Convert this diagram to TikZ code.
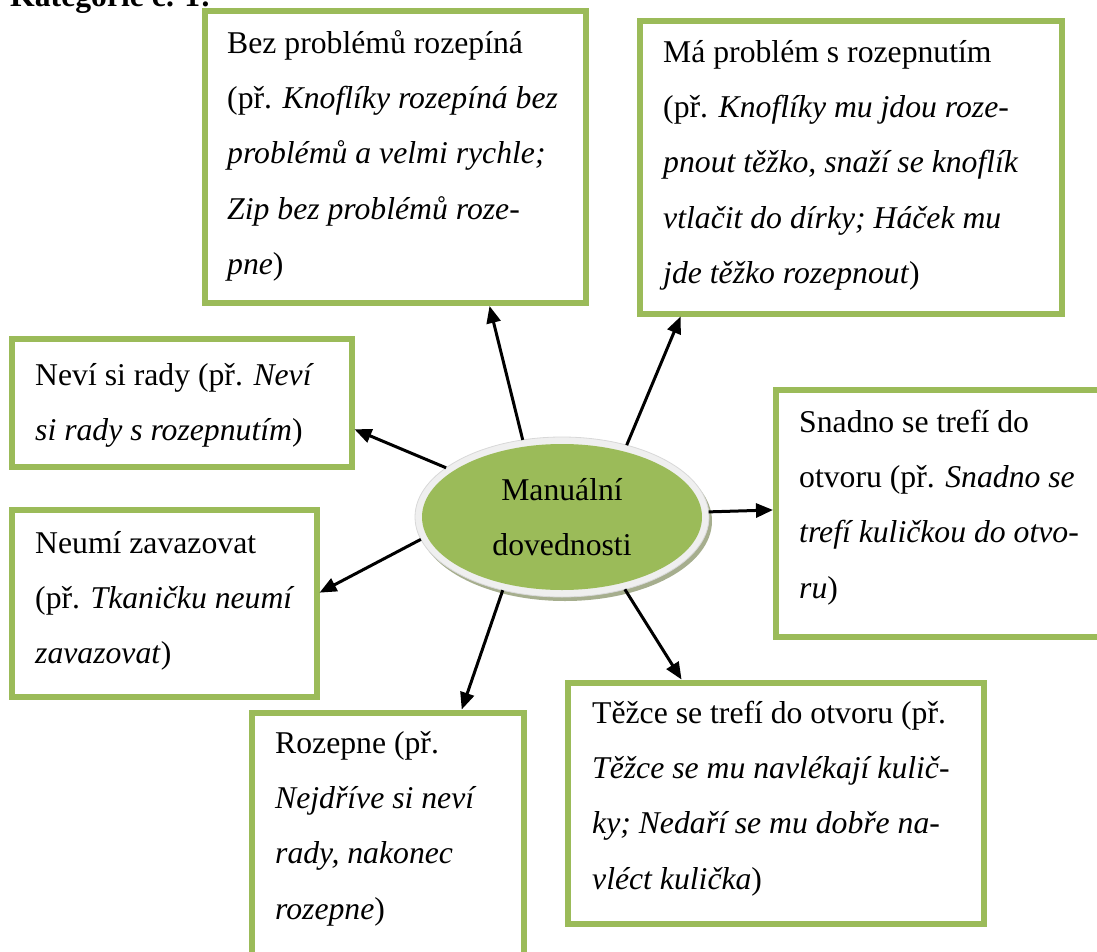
\documentclass[tikz,border=0pt]{standalone}
\usepackage{fontspec}
\setmainfont{Liberation Serif}
\usetikzlibrary{arrows.meta,calc,shapes.geometric}
\definecolor{olive}{HTML}{9BBB59}
\definecolor{ringgrey}{HTML}{EFEFEF}
\definecolor{ringedge}{HTML}{D8D8D8}
\definecolor{shade}{HTML}{A6AE8E}
\tikzset{
  gbox/.style={draw=olive, line width=6pt, fill=white, rectangle, inner sep=0pt},
  boxtext/.style={anchor=north west, inner sep=0pt, align=left,
    font=\fontsize{31.7}{55.3}\selectfont},
  link/.style={line width=3pt, -{Triangle[length=17pt,width=14pt]}},
}
\newcommand{\lead}{\strut}
\begin{document}
\begin{tikzpicture}[x=1pt,y=-1pt]
\useasboundingbox (0,0) rectangle (1097,952);
\clip (0,0) rectangle (1097,952);

% heading, partly above the top edge
\node[anchor=base west, inner sep=0pt, font=\fontsize{31.7}{55.3}\selectfont\bfseries]
  (head) at (10,7) {Kategorie č. 1:};

% boxes
\node[gbox, minimum width=381, minimum height=292] (b1) at (395.5,157) {};
\node[gbox, minimum width=422, minimum height=292] (b2) at (850.5,167.5) {};
\node[gbox, minimum width=340, minimum height=128] (b3) at (181.5,402.5) {};
\node[gbox, minimum width=305, minimum height=186.5] (b4) at (164,603.25) {};
\node[gbox, minimum width=334, minimum height=246.5] (b5) at (943,513.25) {};
\node[gbox, minimum width=416.5, minimum height=241.5] (b6) at (775.75,803.25) {};
\node[gbox, minimum width=272, minimum height=277.5] (b7) at (387.5,851.25) {};

% box texts (first baseline minus strut height)
\node[boxtext] (t1) at (227,14.3) {\lead Bez problémů rozepíná\\
(př. \textit{Knoflíky rozepíná bez}\\
\textit{problémů a velmi rychle;}\\
\textit{Zip bez problémů roze-}\\
\textit{pne})};
\node[boxtext] (t2) at (663,23.3) {\lead Má problém s rozepnutím\\
(př. \textit{Knoflíky mu jdou roze-}\\
\textit{pnout těžko, snaží se knoflík}\\
\textit{vtlačit do dírky; Háček mu}\\
\textit{jde těžko rozepnout})};
\node[boxtext] (t3) at (35,346.3) {\lead Neví si rady (př. \textit{Neví}\\
\textit{si rady s rozepnutím})};
\node[boxtext] (t4) at (35,514.3) {\lead Neumí zavazovat\\
(př. \textit{Tkaničku neumí}\\
\textit{zavazovat})};
\node[boxtext] (t5) at (799,393.3) {\lead Snadno se trefí do\\
otvoru (př. \textit{Snadno se}\\
\textit{trefí kuličkou do otvo-}\\
\textit{ru})};
\node[boxtext] (t6) at (592,684.3) {\lead Těžce se trefí do otvoru (př.\\
\textit{Těžce se mu navlékají kulič-}\\
\textit{ky; Nedaří se mu dobře na-}\\
\textit{vléct kulička})};
\node[boxtext] (t7) at (275,714.3) {\lead Rozepne (př.\\
\textit{Nejdříve si neví}\\
\textit{rady, nakonec}\\
\textit{rozepne})};

% central ellipse: shadow, light ring, green core
\node[ellipse, fill=shade, minimum width=294, minimum height=160, inner sep=0pt]
  (sh) at (565,521) {};
\node[ellipse, fill=ringgrey, draw=ringedge, line width=0.8pt,
  minimum width=294, minimum height=160, inner sep=0pt, outer sep=0pt]
  (ell) at (562,517) {};
\node[ellipse, fill=olive, minimum width=280, minimum height=146, inner sep=0pt]
  (core) at (562,517) {};
\node[inner sep=0pt, align=center, font=\fontsize{31.7}{55.3}\selectfont]
  (lbl) at (core.center) {\lead Manuální\\dovednosti\lead};

% connectors
\draw[link] (ell.117.5) -- ($(b1.south west)!0.743!(b1.south east)$);
\draw[link] (ell.48.3)  -- ($(b2.south west)!0.103!(b2.south east)$);
\draw[link] (ell.157.3) -- ($(b3.north east)!0.70!(b3.south east)$);
\draw[link] (ell.189.8) -- ($(b4.north east)!0.445!(b4.south east)$);
\draw[link] (ell.2.8)   -- ($(b5.north west)!0.487!(b5.south west)$);
\draw[link] (ell.311.4) -- ($(b6.north west)!0.277!(b6.north east)$);
\draw[link] (ell.231.8) -- ($(b7.north west)!0.767!(b7.north east)$);
\end{tikzpicture}
\end{document}
